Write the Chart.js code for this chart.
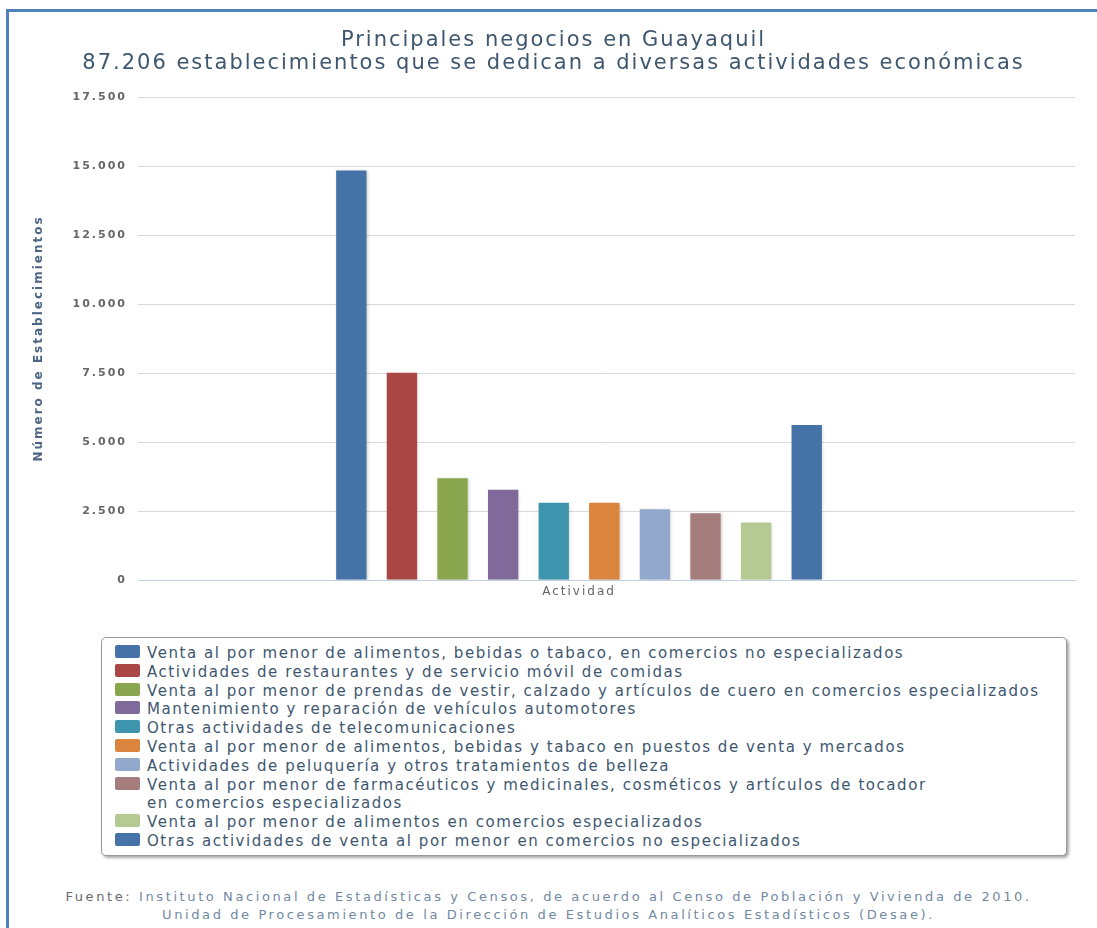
<!DOCTYPE html>
<html lang="es">
<head>
<meta charset="utf-8">
<title>Principales negocios en Guayaquil</title>
<script src="https://cdn.jsdelivr.net/npm/chart.js@4/dist/chart.umd.min.js"></script>
<style>
  html, body { margin: 0; padding: 0; background: #fff; }
  #page { position: relative; width: 1097px; height: 928px; overflow: hidden; background: #fff; }
  #frame {
    position: absolute; left: 6px; top: 9px; right: 0; bottom: 0;
    border-left: 3px solid #4F81BD; border-top: 3px solid #4F81BD;
  }
  #chart { position: absolute; left: 0; top: 0; }
  #legend {
    position: absolute; left: 101px; top: 637px; width: 966px; height: 219px;
    box-sizing: border-box; border: 1px solid #9a9a9a; border-radius: 5px;
    box-shadow: 2px 2px 3px rgba(0, 0, 0, 0.35); background: #fff;
  }
  #legend ul { list-style: none; margin: 0; padding: 6px 0 0 13px; }
  #legend li {
    display: flex; align-items: flex-start;
    font: 15px "DejaVu Sans", sans-serif; letter-spacing: 1.55px;
    line-height: 18.8px; color: #3E576F;
  }
  #legend .swatch {
    flex: 0 0 auto; width: 25px; height: 13px; border-radius: 2px;
    margin: 1px 7px 0 0;
  }
  #legend .txt { white-space: pre-line; }
  #source {
    position: absolute; left: 0; top: 888px; width: 1097px; text-align: center;
    font: 13px "DejaVu Sans", sans-serif; letter-spacing: 2.6px; line-height: 18px;
    color: #7189a3;
  }
  #source .lead { color: #6a6a6a; }
</style>
</head>
<body>
<div id="page">
  <div id="frame"></div>
  <canvas id="chart" width="1097" height="620"></canvas>
  <div id="legend"></div>
  <div id="source"><span class="lead">Fuente:</span> Instituto Nacional de Estadísticas y Censos, de acuerdo al Censo de Población y Vivienda de 2010.<br>Unidad de Procesamiento de la Dirección de Estudios Analíticos Estadísticos (Desae).</div>
</div>
<script>
// Chart text
const titleLines = [
  'Principales negocios en Guayaquil',
  '87.206 establecimientos que se dedican a diversas actividades económicas'
];
const yAxisTitle = 'Número de Establecimientos';

// Single category on the horizontal axis
const categories = ['Actividad'];

// One series per activity (number of establishments)
const seriesNames = [
  'Venta al por menor de alimentos, bebidas o tabaco, en comercios no especializados',
  'Actividades de restaurantes y de servicio móvil de comidas',
  'Venta al por menor de prendas de vestir, calzado y artículos de cuero en comercios especializados',
  'Mantenimiento y reparación de vehículos automotores',
  'Otras actividades de telecomunicaciones',
  'Venta al por menor de alimentos, bebidas y tabaco en puestos de venta y mercados',
  'Actividades de peluquería y otros tratamientos de belleza',
  'Venta al por menor de farmacéuticos y medicinales, cosméticos y artículos de tocador\nen comercios especializados',
  'Venta al por menor de alimentos en comercios especializados',
  'Otras actividades de venta al por menor en comercios no especializados'
];
const seriesValues = [14840, 7510, 3690, 3270, 2800, 2800, 2560, 2420, 2080, 5620];
const seriesColors = [
  '#4572A7', '#AA4643', '#89A54E', '#80699B', '#3D96AE',
  '#DB843D', '#92A8CD', '#A47D7C', '#B5CA92', '#4572A7'
];

// Value axis ticks
const yTickValues = [0, 2500, 5000, 7500, 10000, 12500, 15000, 17500];
const yTickLabels = ['0', '2.500', '5.000', '7.500', '10.000', '12.500', '15.000', '17.500'];

const FONT = '"DejaVu Sans", sans-serif';

// Wide tracking for all canvas text
const textSpacing = {
  id: 'textSpacing',
  beforeUpdate(chart) { chart.ctx.letterSpacing = '2px'; },
  beforeDraw(chart) { chart.ctx.letterSpacing = '2px'; }
};

// Soft drop shadow under the columns
const barShadow = {
  id: 'barShadow',
  beforeDatasetsDraw(chart) {
    const c = chart.ctx;
    c.save();
    c.shadowColor = 'rgba(0, 0, 0, 0.18)';
    c.shadowBlur = 3;
    c.shadowOffsetX = 1;
    c.shadowOffsetY = 1;
  },
  afterDatasetsDraw(chart) { chart.ctx.restore(); }
};

// Legend rendered as an HTML list, one series per row
const htmlLegend = {
  id: 'htmlLegend',
  afterUpdate(chart) {
    const box = document.getElementById('legend');
    box.innerHTML = '';
    const list = document.createElement('ul');
    chart.data.datasets.forEach((ds) => {
      const li = document.createElement('li');
      const sw = document.createElement('span');
      sw.className = 'swatch';
      sw.style.background = ds.backgroundColor;
      const tx = document.createElement('span');
      tx.className = 'txt';
      tx.textContent = ds.label;
      li.appendChild(sw);
      li.appendChild(tx);
      list.appendChild(li);
    });
    box.appendChild(list);
  }
};

const datasets = seriesNames.map((name, i) => ({
  label: name,
  data: [{ x: 0, y: seriesValues[i] }],
  backgroundColor: seriesColors[i],
  borderWidth: 0,
  categoryPercentage: 0.54,
  barPercentage: 0.6
}));

new Chart(document.getElementById('chart'), {
  type: 'bar',
  data: { datasets },
  plugins: [textSpacing, barShadow, htmlLegend],
  options: {
    responsive: false,
    animation: false,
    devicePixelRatio: 1,
    layout: { padding: { top: 0, left: 32, right: 22, bottom: 15.6 } },
    plugins: {
      legend: { display: false },
      tooltip: { enabled: false },
      title: {
        display: true,
        text: titleLines,
        color: '#3E576F',
        font: { family: FONT, size: 21, weight: 'normal', lineHeight: 1.1 },
        padding: { top: 29, bottom: 21.8 }
      }
    },
    scales: {
      x: {
        type: 'linear',
        min: -0.5,
        max: 0.5623,
        bounds: 'data',
        offset: false,
        afterBuildTicks(scale) {
          scale.ticks = categories.map((c, i) => ({ value: i }));
        },
        ticks: {
          callback: (v) => categories[v],
          padding: 5,
          color: '#666666',
          font: { family: FONT, size: 12, lineHeight: 1.2 }
        },
        grid: { display: false, drawTicks: false },
        border: { display: true, color: '#C0D0E0', width: 1, z: 1 }
      },
      y: {
        min: 0,
        max: 17500,
        afterBuildTicks(scale) {
          scale.ticks = yTickValues.map((v) => ({ value: v }));
        },
        afterFit(scale) { scale.width = 106; },
        ticks: {
          callback: (v, i) => yTickLabels[i],
          padding: 11,
          color: '#666666',
          font: { family: FONT, size: 11, weight: 'bold', lineHeight: 1.2 }
        },
        grid: {
          color: (ctx) => (ctx.tick && ctx.tick.value === 0 ? 'rgba(0,0,0,0)' : '#D9D9D9'),
          lineWidth: 1,
          drawTicks: false
        },
        border: { display: false },
        title: {
          display: true,
          text: yAxisTitle,
          color: '#4D6584',
          font: { family: FONT, size: 12, weight: 'bold', lineHeight: 1.2 },
          padding: { top: 0, bottom: 0 }
        }
      }
    }
  }
});
</script>
</body>
</html>
